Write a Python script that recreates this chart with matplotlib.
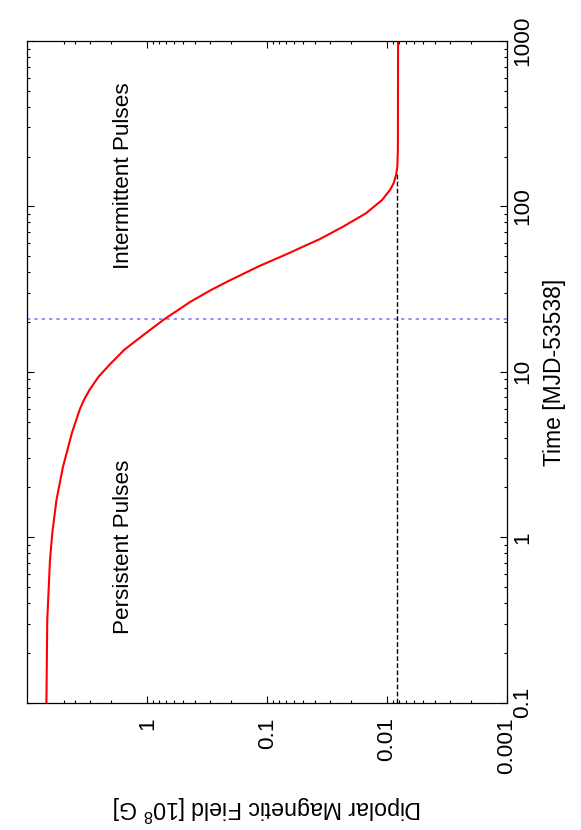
import matplotlib
matplotlib.use("Agg")
import matplotlib.pyplot as plt
import numpy as np

plt.rcParams['font.family'] = ['Liberation Sans', 'DejaVu Sans']
plt.rcParams['mathtext.fontset'] = 'custom'
plt.rcParams['mathtext.rm'] = 'Liberation Sans'
plt.rcParams['mathtext.it'] = 'Liberation Sans'
plt.rcParams['mathtext.default'] = 'regular'

# ---- data ----
time_days = [0.1, 0.316, 0.729, 1.06, 1.68, 2.66, 4.27, 5.97, 6.76, 7.77,
             9.32, 11.2, 13.6, 16.7, 20.8, 26.5, 31.3, 35.1, 43.3, 52.1, 57.2,
             63.4, 75.5, 91.0, 109.5, 126, 138, 155, 174, 220, 1000]
field_1e8G = [6.95, 6.84, 6.49, 6.21, 5.73, 5.06, 4.26, 3.65, 3.38, 3.04,
              2.56, 2.03, 1.555, 1.08, 0.722, 0.438, 0.293, 0.2154, 0.1189,
              0.0662, 0.0501, 0.0365, 0.02326, 0.01496, 0.0110, 0.00944,
              0.00883, 0.00841, 0.00822, 0.00813, 0.0081]

final_field = 0.0082          # black dashed asymptote level
final_field_t = [0.1, 160]    # time span of dashed line
transition_time = 20.8        # blue dotted line

field_ticks = [0.001, 0.01, 0.1, 1]
field_ticklabels = ['0.001', '0.01', '0.1', '1']
time_ticks = [0.1, 1, 10, 100, 1000]
time_ticklabels = ['0.1', '1', '10', '100', '1000']

FS = 16.2

fig = plt.figure(figsize=(5.81, 8.30), dpi=100)
ax = fig.add_axes([0.0473, 0.1534, 0.8253, 0.7972])

ax.set_xscale('log')
ax.set_yscale('log')
ax.set_xlim(10, 0.001)
ax.set_ylim(0.1, 1000)

ax.axhline(transition_time, color='#7f7fff', lw=1.2, ls=(0, (2, 2.4)))
ax.plot([final_field, final_field], final_field_t, color='black', lw=1.0,
        ls=(0, (3.4, 1.7)))
ax.plot(field_1e8G, time_days, color='#ff0000', lw=1.5)

# ticks
ax.set_xticks(field_ticks)
ax.set_xticklabels(field_ticklabels, rotation=90)
xminor = [m * 10.0**e for e in (-3, -2, -1) for m in range(2, 10)] + [2, 3, 4, 5]
ax.set_xticks(xminor, minor=True)
ax.set_yticks(time_ticks)
ax.set_yticklabels(time_ticklabels, rotation=90, va='center')
yminor = [m * 10.0**e for e in (-1, 0, 1, 2) for m in range(2, 10)]
ax.set_yticks(yminor, minor=True)
ax.tick_params(which='both', direction='in', top=True, bottom=True,
               left=True, right=True, labelleft=False, labelright=True,
               labelbottom=True, width=0.8)
ax.tick_params(which='major', length=5)
ax.tick_params(which='minor', length=2.5)
ax.tick_params(axis='x', which='major', pad=10.5, labelsize=FS)
ax.tick_params(axis='y', which='major', pad=3.5, labelsize=FS)
for lab in ax.get_yticklabels():
    lab.set_verticalalignment('center')
for s in ax.spines.values():
    s.set_linewidth(0.9)

ax.text(1.58, 152.8, 'Intermittent Pulses', rotation=90, ha='center',
        va='center', fontsize=FS)
ax.text(1.58, 0.874, 'Persistent Pulses', rotation=90, ha='center',
        va='center', fontsize=FS)

fig.text(555 / 581, 1 - 372 / 830, 'Time [MJD-53538]', rotation=90,
         ha='center', va='center', fontsize=16.5)
fig.text(267 / 581, 1 - 808 / 830, 'Dipolar Magnetic Field [10$^8$ G]',
         rotation=180, ha='center', va='center', fontsize=16.7)

fig.savefig('out.png', dpi=100)
